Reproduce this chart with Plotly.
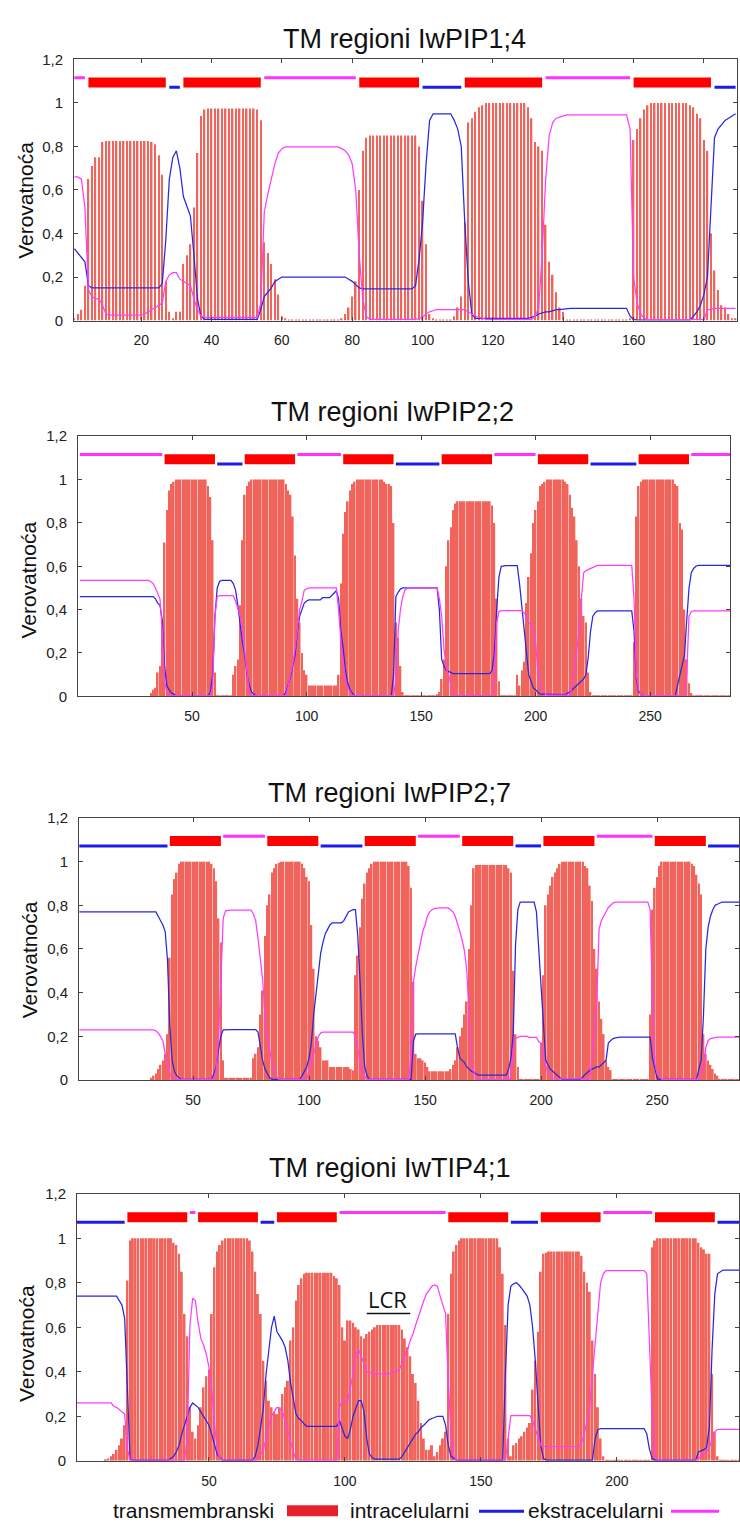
import plotly.graph_objects as go

# ---------------- DATA ----------------
titles = ["TM regioni IwPIP1;4", "TM regioni IwPIP2;2", "TM regioni IwPIP2;7", "TM regioni IwTIP4;1"]

# Panel 1: IwPIP1;4  (per-residue probabilities)
tm1 = [
    .01, .03, .05, .16, .65, .71, .75, .75, .82, .825,
    .825, .825, .825, .825, .825, .825, .825, .825, .825, .825,
    .825, .825, .82, .81, .76, .67, .18, .04, .01, .04,
    .04, .26, .30, .35, .52, .77, .94, .97, .975, .975,
    .975, .975, .975, .975, .975, .975, .975, .975, .975, .975,
    .975, .975, .97, .92, .36, .31, .26, .19, .12, .02,
    .01, .005, .005, .005, .005, .005, .005, .005, .005, .005,
    .005, .005, .005, .005, .005, .005, .01, .03, .06, .11,
    .18, .60, .78, .84, .85, .85, .85, .85, .85, .85,
    .85, .85, .85, .85, .85, .85, .85, .85, .80, .55,
    .35, .03, .01, .005, .005, .005, .005, .005, .02, .06,
    .11, .45, .91, .93, .96, .98, .99, 1, 1, 1,
    1, 1, 1, 1, 1, 1, 1, 1, 1, .98,
    .93, .82, .80, .78, .44, .27, .21, .13, .06, .04,
    .005, .005, .005, .005, .005, .005, .005, .005, .005, .005,
    .005, .005, .005, .005, .005, .005, .005, .005, .01, .83,
    .88, .93, .97, .99, 1, 1, 1, 1, 1, 1,
    1, 1, 1, 1, 1, .99, .98, .95, .93, .83,
    .78, .40, .23, .14, .07, .06, .03, .01, .01]
in1 = [
    .33, .31, .29, .27, .16, .15, .15, .15, .15, .15,
    .15, .15, .15, .15, .15, .15, .15, .15, .15, .15,
    .15, .15, .15, .15, .15, .17, .37, .65, .75, .78,
    .70, .57, .52, .48, .30, .10, .02, .005, .005, .005,
    .005, .005, .005, .005, .005, .005, .005, .005, .005, .005,
    .005, .005, .005, .05, .11, .13, .15, .18, .19, .20,
    .20, .20, .20, .20, .20, .20, .20, .20, .20, .20,
    .20, .20, .20, .20, .20, .20, .20, .20, .19, .18,
    .165, .15, .145, .145, .145, .145, .145, .145, .145, .145,
    .145, .145, .145, .145, .145, .145, .145, .16, .28, .45,
    .72, .92, .95, .95, .95, .95, .95, .95, .92, .88,
    .80, .45, .18, .03, .01, .01, .01, .01, .01, .01,
    .01, .01, .01, .01, .01, .01, .01, .01, .01, .01,
    .015, .02, .03, .035, .04, .04, .045, .05, .05, .053,
    .056, .056, .056, .056, .056, .056, .056, .056, .056, .056,
    .056, .056, .056, .056, .056, .056, .056, .056, .02, .005,
    .002, .002, .002, .002, .002, .002, .002, .002, .002, .002,
    .002, .002, .002, .002, .002, .002, .02, .04, .07, .12,
    .20, .50, .84, .88, .90, .92, .93, .94, .95]
out1 = [
    .66, .66, .65, .52, .14, .11, .10, .10, .07, .03,
    .025, .025, .025, .025, .025, .025, .025, .025, .025, .025,
    .03, .04, .05, .06, .07, .08, .18, .21, .22, .22,
    .19, .18, .17, .16, .10, .05, .02, .015, .015, .015,
    .015, .015, .015, .015, .015, .015, .015, .015, .015, .015,
    .015, .015, .015, .08, .50, .58, .65, .72, .77, .79,
    .798, .798, .798, .798, .798, .798, .798, .798, .798, .798,
    .798, .798, .798, .798, .798, .798, .79, .78, .76, .72,
    .60, .30, .10, .02, .005, .005, .005, .005, .005, .005,
    .005, .005, .005, .005, .005, .005, .005, .005, .01, .015,
    .03, .04, .045, .05, .05, .05, .05, .05, .05, .05,
    .05, .05, .04, .03, .02, .015, .01, .005, .005, .005,
    .005, .005, .005, .005, .005, .005, .005, .005, .005, .005,
    .005, .02, .06, .30, .65, .85, .91, .93, .935, .94,
    .945, .945, .945, .945, .945, .945, .945, .945, .945, .945,
    .945, .945, .945, .945, .945, .945, .945, .945, .88, .20,
    .08, .03, .01, .004, .004, .004, .004, .004, .004, .004,
    .004, .004, .004, .004, .004, .004, .004, .004, .004, .004,
    .05, .05, .056, .056, .056, .056, .056, .056, .056]
seg1_type = ["o", "M", "i", "M", "o", "M", "i", "M", "o", "M", "i"]
seg1_start = [1, 5, 28, 32, 55, 82, 100, 112, 135, 160, 183]
seg1_end = [4, 27, 31, 54, 81, 99, 111, 134, 159, 182, 189]

# Panel 2: IwPIP2;2
tm2 = [
    0, 0, 0, 0, 0, 0, 0, 0, 0, 0,
    0, 0, 0, 0, 0, 0, 0, 0, 0, 0,
    0, 0, 0, 0, 0, 0, 0, 0, 0, 0,
    0, .015, .03, .04, .11, .14, .35, .71, .86, .95,
    .98, .99, 1, 1, 1, 1, 1, 1, 1, 1,
    1, 1, 1, 1, 1, 1, .97, .92, .72, .11,
    .005, .005, .005, .005, .005, .005, .005, .1, .14, .17,
    .42, .72, .93, .97, .99, 1, 1, 1, 1, 1,
    1, 1, 1, 1, 1, 1, 1, 1, 1, 1,
    .98, .95, .93, .83, .65, .45, .34, .2, .12, .1,
    .05, .05, .05, .05, .05, .05, .05, .05, .05, .05,
    .05, .05, .05, .1, .52, .75, .85, .9, .95, .98,
    .99, 1, 1, 1, 1, 1, 1, 1, 1, 1,
    1, 1, 1, .99, .98, .98, .97, .8, .34, .27,
    .14, .02, .005, .005, .005, .005, .005, .005, .005, .005,
    .005, .005, .005, .005, .005, .005, .01, .02, .08, .17,
    .6, .72, .78, .86, .89, .9, .9, .9, .9, .9,
    .9, .9, .9, .9, .9, .9, .9, .9, .9, .9,
    .88, .8, .45, .07, .005, .005, .005, .005, .005, .005,
    .005, .1, .05, .12, .16, .43, .55, .66, .8, .86,
    .9, .97, .98, .99, 1, 1, 1, 1, 1, 1,
    1, 1, .99, .98, .93, .87, .83, .72, .6, .45,
    .37, .34, .11, .02, .005, .005, .005, .005, .005, .005,
    .005, .005, .005, .005, .005, .005, .005, .005, .005, .005,
    .005, .005, .25, .83, .97, .99, 1, 1, 1, 1,
    1, 1, 1, 1, 1, 1, 1, 1, 1, 1,
    .98, .97, .8, .77, .4, .17, .06, .015, .005, .005,
    .005, .005, .005, .005, .005, .005, .005, .005, .005, .005,
    .005, .005, .005, .005, .005]
in2 = [
    .46, .46, .46, .46, .46, .46, .46, .46, .46, .46,
    .46, .46, .46, .46, .46, .46, .46, .46, .46, .46,
    .46, .46, .46, .46, .46, .46, .46, .46, .46, .46,
    .46, .46, .46, .45, .43, .42, .35, .14, .05, .03,
    .015, .01, .003, .003, .003, .003, .003, .003, .003, .003,
    .003, .003, .003, .003, .003, .003, .003, .02, .1, .37,
    .5, .53, .535, .535, .535, .535, .535, .52, .49, .42,
    .33, .25, .19, .1, .05, .02, .01, .003, .003, .003,
    .003, .003, .003, .003, .003, .003, .003, .003, .003, .003,
    .02, .05, .09, .14, .19, .3, .37, .4, .43, .44,
    .445, .445, .445, .445, .445, .445, .455, .455, .455, .455,
    .465, .475, .487, .45, .3, .22, .12, .06, .03, .015,
    .003, .003, .003, .003, .003, .003, .003, .003, .003, .003,
    .003, .003, .003, .003, .003, .003, .003, .1, .46, .48,
    .495, .5, .5, .5, .5, .5, .5, .5, .5, .5,
    .5, .5, .5, .5, .5, .5, .5, .4, .17, .14,
    .12, .115, .11, .105, .105, .105, .105, .105, .105, .105,
    .105, .105, .105, .105, .105, .105, .105, .105, .105, .105,
    .12, .2, .4, .55, .6, .603, .603, .603, .603, .603,
    .603, .603, .52, .42, .3, .22, .1, .07, .04, .03,
    .02, .01, .01, .01, .01, .01, .01, .01, .008, .008,
    .008, .008, .008, .015, .02, .03, .04, .05, .06, .07,
    .08, .1, .18, .3, .37, .385, .394, .394, .394, .394,
    .394, .394, .394, .394, .394, .394, .394, .394, .394, .394,
    .394, .394, .3, .08, .02, .01, .003, .003, .003, .003,
    .003, .003, .003, .003, .003, .003, .003, .003, .003, .003,
    .003, .05, .1, .15, .19, .35, .5, .57, .59, .6,
    .604, .604, .604, .604, .604, .604, .604, .604, .604, .604,
    .604, .604, .604, .604, .604]
out2 = [
    .535, .535, .535, .535, .535, .535, .535, .535, .535, .535,
    .535, .535, .535, .535, .535, .535, .535, .535, .535, .535,
    .535, .535, .535, .535, .535, .535, .535, .535, .535, .535,
    .535, .53, .52, .5, .47, .45, .3, .07, .015, .003,
    .003, .003, .003, .003, .003, .003, .003, .003, .003, .003,
    .003, .003, .003, .003, .003, .003, .003, .003, .05, .37,
    .46, .465, .465, .465, .465, .465, .465, .465, .44, .41,
    .37, .3, .2, .11, .02, .003, .003, .003, .003, .003,
    .003, .003, .003, .003, .003, .003, .003, .003, .003, .003,
    .003, .05, .1, .15, .22, .32, .4, .44, .49, .495,
    .5, .5, .5, .5, .5, .5, .5, .5, .5, .5,
    .5, .5, .5, .4, .25, .16, .07, .04, .02, .003,
    .003, .003, .003, .003, .003, .003, .003, .003, .003, .003,
    .003, .003, .003, .003, .003, .003, .003, .003, .07, .3,
    .4, .46, .49, .5, .5, .5, .5, .5, .5, .5,
    .5, .5, .5, .5, .5, .5, .5, .45, .37, .22,
    .13, .1, .05, .015, .003, .003, .003, .003, .003, .003,
    .003, .003, .003, .003, .003, .003, .003, .003, .003, .003,
    .003, .1, .34, .39, .395, .395, .395, .395, .395, .395,
    .395, .395, .395, .395, .385, .37, .34, .33, .31, .25,
    .12, .07, .03, .015, .005, .005, .005, .005, .005, .005,
    .005, .005, .005, .005, .005, .05, .13, .22, .3, .45,
    .57, .58, .585, .59, .595, .6, .604, .604, .604, .604,
    .604, .604, .604, .604, .604, .604, .604, .604, .604, .604,
    .604, .604, .45, .1, .03, .01, .003, .003, .003, .003,
    .003, .003, .003, .003, .003, .003, .003, .003, .003, .003,
    .003, .003, .003, .003, .003, .1, .37, .39, .394, .394,
    .394, .394, .394, .394, .394, .394, .394, .394, .394, .394,
    .394, .394, .394, .394, .394]
seg2_type = ["o", "M", "i", "M", "o", "M", "i", "M", "o", "M", "i", "M", "o"]
seg2_start = [1, 38, 61, 73, 96, 116, 139, 159, 182, 201, 224, 245, 268]
seg2_end = [37, 60, 72, 95, 115, 138, 158, 181, 200, 223, 244, 267, 285]

# Panel 3: IwPIP2;7
tm3 = [
    0, 0, 0, 0, 0, 0, 0, 0, 0, 0,
    0, 0, 0, 0, 0, 0, 0, 0, 0, 0,
    0, 0, 0, 0, 0, 0, 0, 0, 0, 0,
    0, .01, .02, .03, .05, .07, .09, .12, .21, .56,
    .85, .92, .95, .99, 1, 1, 1, 1, 1, 1,
    1, 1, 1, 1, 1, 1, 1, .99, .97, .91,
    .74, .63, .09, .01, .01, .01, .01, .01, .01, .01,
    .01, .01, .01, .01, .01, .1, .12, .15, .3, .41,
    .66, .8, .85, .95, .97, .99, .995, 1, 1, 1,
    1, 1, 1, 1, 1, 1, .99, .97, .93, .91,
    .71, .51, .2, .18, .15, .09, .09, .09, .06, .06,
    .06, .06, .06, .06, .06, .06, .06, .05, .045, .48,
    .57, .7, .83, .9, .95, .97, .99, 1, 1, 1,
    1, 1, 1, 1, 1, 1, 1, 1, 1, 1,
    1, 1, .98, .88, .45, .12, .1, .1, .09, .08,
    .06, .04, .04, .04, .04, .04, .04, .04, .04, .04,
    .05, .07, .09, .15, .2, .24, .3, .36, .6, .8,
    .97, .985, .985, .985, .985, .985, .985, .985, .985, .985,
    .985, .985, .985, .985, .985, .97, .95, .5, .21, .06,
    .005, .005, .005, .005, .005, .005, .005, .005, .005, .17,
    .48, .8, .85, .89, .93, .95, .97, .99, 1, 1,
    1, 1, 1, 1, 1, 1, 1, 1, .98, .97,
    .89, .82, .6, .51, .36, .28, .21, .09, .06, .045,
    .005, .005, .005, .005, .005, .005, .005, .005, .005, .005,
    .005, .005, .005, .005, .005, .005, .3, .78, .88, .93,
    .98, 1, 1, 1, 1, 1, 1, 1, 1, 1,
    1, 1, 1, 1, .99, .98, .94, .9, .85, .21,
    .12, .09, .07, .05, .03, .02, .005, .005, .005, .005,
    .005, .005, .005, .005, .005, .005]
in3 = [
    .77, .77, .77, .77, .77, .77, .77, .77, .77, .77,
    .77, .77, .77, .77, .77, .77, .77, .77, .77, .77,
    .77, .77, .77, .77, .77, .77, .77, .77, .77, .77,
    .77, .77, .77, .77, .75, .73, .71, .68, .55, .25,
    .09, .04, .02, .01, .003, .003, .003, .003, .003, .003,
    .003, .003, .003, .003, .003, .003, .003, .003, .03, .06,
    .14, .2, .23, .231, .231, .231, .231, .231, .231, .231,
    .231, .231, .231, .231, .231, .231, .231, .22, .15, .09,
    .05, .03, .01, .003, .003, .003, .003, .003, .003, .003,
    .003, .003, .003, .003, .003, .003, .02, .04, .06, .1,
    .17, .3, .4, .51, .58, .63, .67, .69, .71, .72,
    .72, .72, .72, .72, .73, .75, .77, .775, .78, .78,
    .66, .45, .21, .06, .02, .003, .003, .003, .003, .003,
    .003, .003, .003, .003, .003, .003, .003, .003, .003, .003,
    .003, .003, .003, .003, .18, .21, .211, .211, .211, .211,
    .211, .211, .211, .211, .211, .211, .211, .211, .211, .211,
    .211, .211, .211, .15, .1, .09, .08, .06, .05, .04,
    .035, .03, .023, .023, .023, .023, .023, .023, .023, .023,
    .023, .023, .023, .023, .023, .05, .1, .21, .62, .78,
    .815, .815, .815, .815, .815, .815, .815, .77, .6, .4,
    .21, .09, .07, .05, .04, .03, .02, .01, .003, .003,
    .003, .003, .003, .003, .003, .003, .003, .015, .025, .035,
    .045, .05, .055, .06, .06, .07, .08, .09, .17, .18,
    .19, .193, .196, .196, .196, .196, .196, .196, .196, .196,
    .196, .196, .196, .196, .196, .196, .196, .1, .05, .01,
    .003, .003, .003, .003, .003, .003, .003, .003, .003, .003,
    .003, .003, .003, .003, .003, .003, .003, .05, .09, .3,
    .6, .7, .75, .78, .8, .805, .81, .815, .815, .815,
    .815, .815, .815, .815, .815, .815]
out3 = [
    .23, .23, .23, .23, .23, .23, .23, .23, .23, .23,
    .23, .23, .23, .23, .23, .23, .23, .23, .23, .23,
    .23, .23, .23, .23, .23, .23, .23, .23, .23, .23,
    .23, .23, .23, .225, .215, .2, .18, .12, .07, .03,
    .01, .003, .003, .003, .003, .003, .003, .003, .003, .003,
    .003, .003, .003, .003, .003, .003, .003, .003, .003, .05,
    .2, .45, .74, .775, .778, .778, .778, .778, .778, .778,
    .778, .778, .778, .778, .778, .76, .73, .65, .55, .46,
    .3, .2, .14, .08, .04, .015, .003, .003, .003, .003,
    .003, .003, .003, .003, .003, .003, .003, .003, .003, .04,
    .08, .12, .17, .2, .215, .219, .219, .219, .219, .219,
    .219, .219, .219, .219, .219, .219, .219, .219, .219, .2,
    .14, .08, .03, .015, .003, .003, .003, .003, .003, .003,
    .003, .003, .003, .003, .003, .003, .003, .003, .003, .003,
    .003, .003, .003, .12, .45, .52, .57, .62, .68, .71,
    .75, .77, .78, .785, .788, .788, .788, .788, .788, .788,
    .78, .77, .75, .72, .68, .64, .59, .5, .25, .08,
    .04, .015, .003, .003, .003, .003, .003, .003, .003, .003,
    .003, .003, .003, .003, .003, .003, .003, .14, .19, .195,
    .2, .2, .2, .2, .195, .195, .195, .195, .175, .17,
    .1, .06, .03, .02, .005, .005, .005, .005, .005, .005,
    .005, .005, .005, .005, .005, .005, .005, .005, .005, .005,
    .005, .1, .25, .36, .69, .73, .75, .77, .79, .8,
    .81, .815, .815, .815, .815, .815, .815, .815, .815, .815,
    .815, .815, .815, .815, .815, .815, .78, .35, .08, .03,
    .015, .003, .003, .003, .003, .003, .003, .003, .003, .003,
    .003, .003, .003, .003, .003, .003, .003, .003, .03, .06,
    .15, .18, .19, .193, .196, .196, .196, .196, .196, .196,
    .196, .196, .196, .196, .196, .196]
seg3_type = ["i", "M", "o", "M", "i", "M", "o", "M", "i", "M", "o", "M", "i"]
seg3_start = [1, 40, 63, 82, 105, 124, 147, 166, 189, 201, 224, 249, 272]
seg3_end = [39, 62, 81, 104, 123, 146, 165, 188, 200, 223, 248, 271, 286]

# Panel 4: IwTIP4;1
tm4 = [
    0, 0, 0, 0, 0, 0, 0, 0, 0, 0,
    0, .007, .01, .02, .03, .05, .07, .1, .16, .81,
    .99, 1, 1, 1, 1, 1, 1, 1, 1, 1,
    1, 1, 1, 1, 1, 1, .98, .97, .93, .85,
    .66, .56, .24, .13, .1, .16, .24, .33, .38, .41,
    .66, .87, .94, .97, .99, 1, 1, 1, 1, 1,
    1, 1, 1, 1, .99, .94, .85, .75, .66, .45,
    .36, .27, .24, .22, .21, .24, .3, .33, .36, .54,
    .6, .72, .79, .82, .84, .845, .845, .845, .845, .845,
    .845, .845, .845, .845, .845, .83, .82, .79, .6, .54,
    .63, .63, .62, .6, .59, .56, .55, .57, .58, .59,
    .6, .61, .61, .61, .61, .61, .61, .61, .61, .61,
    .59, .55, .51, .47, .39, .35, .27, .17, .1, .05,
    .05, .07, .02, .04, .07, .1, .13, .66, .84, .94,
    .97, .99, 1, 1, 1, 1, 1, 1, 1, 1,
    1, 1, 1, 1, 1, 1, .96, .84, .61, .1,
    .02, .07, .08, .1, .11, .13, .15, .17, .32, .45,
    .58, .85, .93, .935, .94, .94, .94, .94, .94, .94,
    .94, .94, .94, .94, .94, .94, .92, .85, .8, .76,
    .54, .39, .24, .1, .02, .005, .005, .005, .005, .005,
    .005, .005, .005, .005, .005, .005, .005, .005, .005, .005,
    .005, .005, .96, .99, 1, 1, 1, 1, 1, 1,
    1, 1, 1, 1, 1, 1, 1, 1, 1, .98,
    .96, .95, .93, .93, .39, .13, .02, .005, .005, .005,
    .005, .005, .005, .005, .005]
in4 = [
    .74, .74, .74, .74, .74, .74, .74, .74, .74, .74,
    .74, .74, .74, .74, .74, .74, .72, .7, .64, .3,
    .007, .003, .003, .003, .003, .003, .003, .003, .003, .003,
    .003, .003, .003, .003, .003, .01, .02, .04, .07, .12,
    .16, .21, .24, .26, .25, .24, .22, .2, .18, .16,
    .12, .07, .03, .015, .003, .003, .003, .003, .003, .003,
    .003, .003, .003, .003, .003, .003, .02, .07, .15, .24,
    .39, .5, .6, .65, .58, .56, .54, .51, .45, .35,
    .27, .21, .19, .18, .165, .155, .155, .155, .155, .155,
    .155, .155, .155, .155, .155, .155, .155, .18, .14, .11,
    .1, .14, .2, .24, .27, .27, .22, .1, .03, .015,
    .007, .007, .007, .007, .007, .007, .007, .007, .007, .007,
    .02, .04, .06, .08, .1, .12, .13, .15, .16, .175,
    .185, .19, .195, .2, .2, .2, .16, .07, .02, .01,
    .003, .003, .003, .003, .003, .003, .003, .003, .003, .003,
    .003, .003, .003, .003, .003, .003, .003, .003, .39, .7,
    .785, .795, .8, .79, .775, .76, .74, .7, .6, .45,
    .24, .07, .01, .003, .003, .003, .003, .003, .003, .003,
    .003, .003, .003, .003, .003, .003, .003, .003, .003, .003,
    .003, .1, .14, .145, .145, .145, .145, .145, .145, .145,
    .145, .145, .145, .145, .145, .145, .145, .145, .145, .145,
    .12, .05, .01, .003, .003, .003, .003, .003, .003, .003,
    .003, .003, .003, .003, .003, .003, .003, .003, .003, .04,
    .045, .05, .06, .15, .5, .75, .84, .85, .857, .857,
    .857, .857, .857, .857, .857]
out4 = [
    .26, .26, .26, .26, .26, .26, .26, .26, .26, .26,
    .26, .26, .26, .26, .245, .24, .23, .22, .21, .05,
    .005, .003, .003, .003, .003, .003, .003, .003, .003, .003,
    .003, .003, .003, .003, .003, .003, .003, .003, .003, .003,
    .003, .1, .61, .73, .72, .62, .55, .52, .48, .42,
    .32, .17, .05, .01, .003, .003, .003, .003, .003, .003,
    .003, .003, .003, .003, .003, .003, .003, .01, .03, .05,
    .1, .16, .2, .22, .24, .235, .22, .18, .13, .08,
    .04, .007, .003, .003, .003, .003, .003, .003, .003, .003,
    .003, .003, .003, .003, .003, .003, .003, .24, .27, .27,
    .27, .33, .39, .48, .5, .47, .43, .4, .4, .39,
    .39, .39, .39, .39, .39, .39, .395, .4, .405, .41,
    .44, .47, .5, .54, .57, .61, .65, .69, .72, .75,
    .77, .785, .79, .785, .74, .7, .66, .35, .13, .02,
    .003, .003, .003, .003, .003, .003, .003, .003, .003, .003,
    .003, .003, .003, .003, .003, .003, .003, .003, .003, .1,
    .203, .203, .203, .203, .203, .203, .203, .203, .18, .14,
    .1, .07, .065, .064, .064, .064, .064, .064, .064, .064,
    .064, .064, .064, .064, .064, .064, .08, .12, .18, .24,
    .39, .54, .69, .8, .84, .855, .855, .855, .855, .855,
    .855, .855, .855, .855, .855, .855, .855, .855, .855, .855,
    .84, .5, .2, .02, .003, .003, .003, .003, .003, .003,
    .003, .003, .003, .003, .003, .003, .003, .003, .003, .01,
    .02, .03, .04, .06, .1, .13, .141, .141, .141, .141,
    .141, .141, .141, .141, .141]
seg4_type = ["i", "M", "o", "M", "i", "M", "o", "M", "i", "M", "o", "M", "i"]
seg4_start = [1, 20, 43, 46, 69, 75, 98, 138, 161, 172, 195, 214, 237]
seg4_end = [19, 42, 45, 68, 74, 97, 137, 160, 171, 194, 213, 236, 245]

xtick_vals1 = [20, 40, 60, 80, 100, 120, 140, 160, 180]
xtick_vals2 = [50, 100, 150, 200, 250]
ytick_vals = [0, 0.2, 0.4, 0.6, 0.8, 1, 1.2]
ytick_text = ["0", "0,2", "0,4", "0,6", "0,8", "1", "1,2"]
ylabel = "Verovatnoća"
legend_labels = ["transmembranski", "intracelularni", "ekstracelularni"]
lcr_label = "LCR"
lcr_pos = (115.5, 0.725)
lcr_underline = (108, 124, 0.662)

panels = [
    dict(tm=tm1, inside=in1, outside=out1, st=seg1_type, s0=seg1_start, s1=seg1_end, xt=xtick_vals1),
    dict(tm=tm2, inside=in2, outside=out2, st=seg2_type, s0=seg2_start, s1=seg2_end, xt=xtick_vals2),
    dict(tm=tm3, inside=in3, outside=out3, st=seg3_type, s0=seg3_start, s1=seg3_end, xt=xtick_vals2),
    dict(tm=tm4, inside=in4, outside=out4, st=seg4_type, s0=seg4_start, s1=seg4_end, xt=xtick_vals2),
]

# ---------------- STYLE / LAYOUT ----------------
W, H = 740, 1538
boxes = [
    dict(l=74, r=737, t=51, b=315, xr=[0.9, 189.4], bw=0.42, title=(405, 30), yl=(26, 194)),
    dict(l=78, r=730, t=432, b=695, xr=[0.2, 284.9], bw=0.72, title=(392, 408), yl=(29, 578)),
    dict(l=79, r=739, t=818, b=1083, xr=[0.86, 285.3], bw=0.72, title=(390, 793), yl=(29, 962)),
    dict(l=77, r=739, t=1198, b=1468, xr=[1.47, 244.9], bw=0.72, title=(390, 1172), yl=(26, 1350)),
]
BAR_COL = "#f0645c"
IN_COL = "#2828e0"
OUT_COL = "#ff3cff"
SEG_COL = {"M": "#ff0000", "i": "#1c1ce8", "o": "#ff33ff"}
SEG_Y = {"M": 1.094, "i": 1.072, "o": 1.116}
SEG_W = {"M": 10, "i": 3, "o": 3}
FONT = "Liberation Sans, Arial, Helvetica, sans-serif"


def px(x):
    return x / W


def py(y):
    return 1 - y / H


fig = go.Figure()
annotations = []
shapes = []
layout = {}

for k, (p, bx) in enumerate(zip(panels, boxes), start=1):
    xa = "x" if k == 1 else f"x{k}"
    ya = "y" if k == 1 else f"y{k}"
    res = list(range(1, len(p["tm"]) + 1))
    fig.add_trace(go.Bar(x=res, y=p["tm"], width=bx["bw"], marker=dict(color=BAR_COL, line=dict(width=0)),
                         xaxis=xa, yaxis=ya, showlegend=False, hoverinfo="skip"))
    fig.add_trace(go.Scatter(x=res, y=p["inside"], mode="lines", line=dict(color=IN_COL, width=1.25),
                             xaxis=xa, yaxis=ya, showlegend=False))
    fig.add_trace(go.Scatter(x=res, y=p["outside"], mode="lines", line=dict(color=OUT_COL, width=1.25),
                             xaxis=xa, yaxis=ya, showlegend=False))
    for t in ["o", "i", "M"]:
        xs, ys = [], []
        for tt, a, b in zip(p["st"], p["s0"], p["s1"]):
            if tt == t:
                xs += [a, b, None]
                ys += [SEG_Y[t], SEG_Y[t], None]
        fig.add_trace(go.Scatter(x=xs, y=ys, mode="lines", line=dict(color=SEG_COL[t], width=SEG_W[t]),
                                 xaxis=xa, yaxis=ya, showlegend=False, cliponaxis=True))

    axis_common = dict(showline=True, linecolor="#444", linewidth=1, mirror="ticks", ticks="inside",
                       ticklen=4, tickcolor="#444", showgrid=False, zeroline=False,
                       tickfont=dict(family=FONT, size=14, color="#222"))
    layout["xaxis" if k == 1 else f"xaxis{k}"] = dict(
        axis_common, domain=[px(bx["l"]), px(bx["r"])], range=bx["xr"], tickvals=p["xt"],
        anchor=ya, ticklabelstandoff=7)
    layout["yaxis" if k == 1 else f"yaxis{k}"] = dict(
        axis_common, domain=[py(bx["b"]), py(bx["t"])], range=[0, 1.2], tickvals=ytick_vals,
        ticktext=ytick_text, anchor=xa, ticklabelstandoff=7,
        tickfont=dict(family=FONT, size=15, color="#222"))

    annotations.append(dict(text=titles[k - 1], x=px(bx["title"][0]), y=py(bx["title"][1]), xref="paper",
                            yref="paper", showarrow=False, xanchor="center", yanchor="middle",
                            font=dict(family=FONT, size=27, color="#111")))
    annotations.append(dict(text=ylabel, x=px(bx["yl"][0]), y=py(bx["yl"][1]), xref="paper", yref="paper",
                            showarrow=False, textangle=-90, xanchor="center", yanchor="middle",
                            font=dict(family=FONT, size=21, color="#111")))

# LCR label in panel 4
annotations.append(dict(text=lcr_label, x=lcr_pos[0], y=lcr_pos[1], xref="x4", yref="y4", showarrow=False,
                        xanchor="center", yanchor="middle", font=dict(family="Open Sans, sans-serif", size=22, color="#111")))
shapes.append(dict(type="line", xref="x4", yref="y4", x0=lcr_underline[0], x1=lcr_underline[1],
                   y0=lcr_underline[2], y1=lcr_underline[2], line=dict(color="#111", width=1.5)))

# Legend (text followed by symbol)
LEG_Y = 1518
leg_font = dict(family=FONT, size=21, color="#111")
annotations.append(dict(text=legend_labels[0], x=px(111), y=py(LEG_Y), xref="paper", yref="paper",
                        showarrow=False, xanchor="left", yanchor="middle", font=leg_font))
shapes.append(dict(type="rect", xref="paper", yref="paper", x0=px(287), x1=px(338), y0=py(1524), y1=py(1513),
                   fillcolor="#e8202a", line=dict(width=0)))
annotations.append(dict(text=legend_labels[1], x=px(348), y=py(LEG_Y), xref="paper", yref="paper",
                        showarrow=False, xanchor="left", yanchor="middle", font=leg_font))
shapes.append(dict(type="line", xref="paper", yref="paper", x0=px(479), x1=px(524), y0=py(1519), y1=py(1519),
                   line=dict(color="#1c1ce8", width=3)))
annotations.append(dict(text=legend_labels[2], x=px(526), y=py(LEG_Y), xref="paper", yref="paper",
                        showarrow=False, xanchor="left", yanchor="middle", font=leg_font))
shapes.append(dict(type="line", xref="paper", yref="paper", x0=px(671), x1=px(719), y0=py(1519), y1=py(1519),
                   line=dict(color="#ff33ff", width=3)))

fig.update_layout(width=W, height=H, margin=dict(l=0, r=0, t=0, b=0), paper_bgcolor="white",
                  plot_bgcolor="white", showlegend=False, barmode="overlay",
                  annotations=annotations, shapes=shapes, **layout)
# remove the browser's default 8px page margin so the figure starts at the window's top-left corner
fig.write_html("out.html", config={"displayModeBar": False},
               post_script="document.body.style.margin='0';document.body.style.padding='0';")
